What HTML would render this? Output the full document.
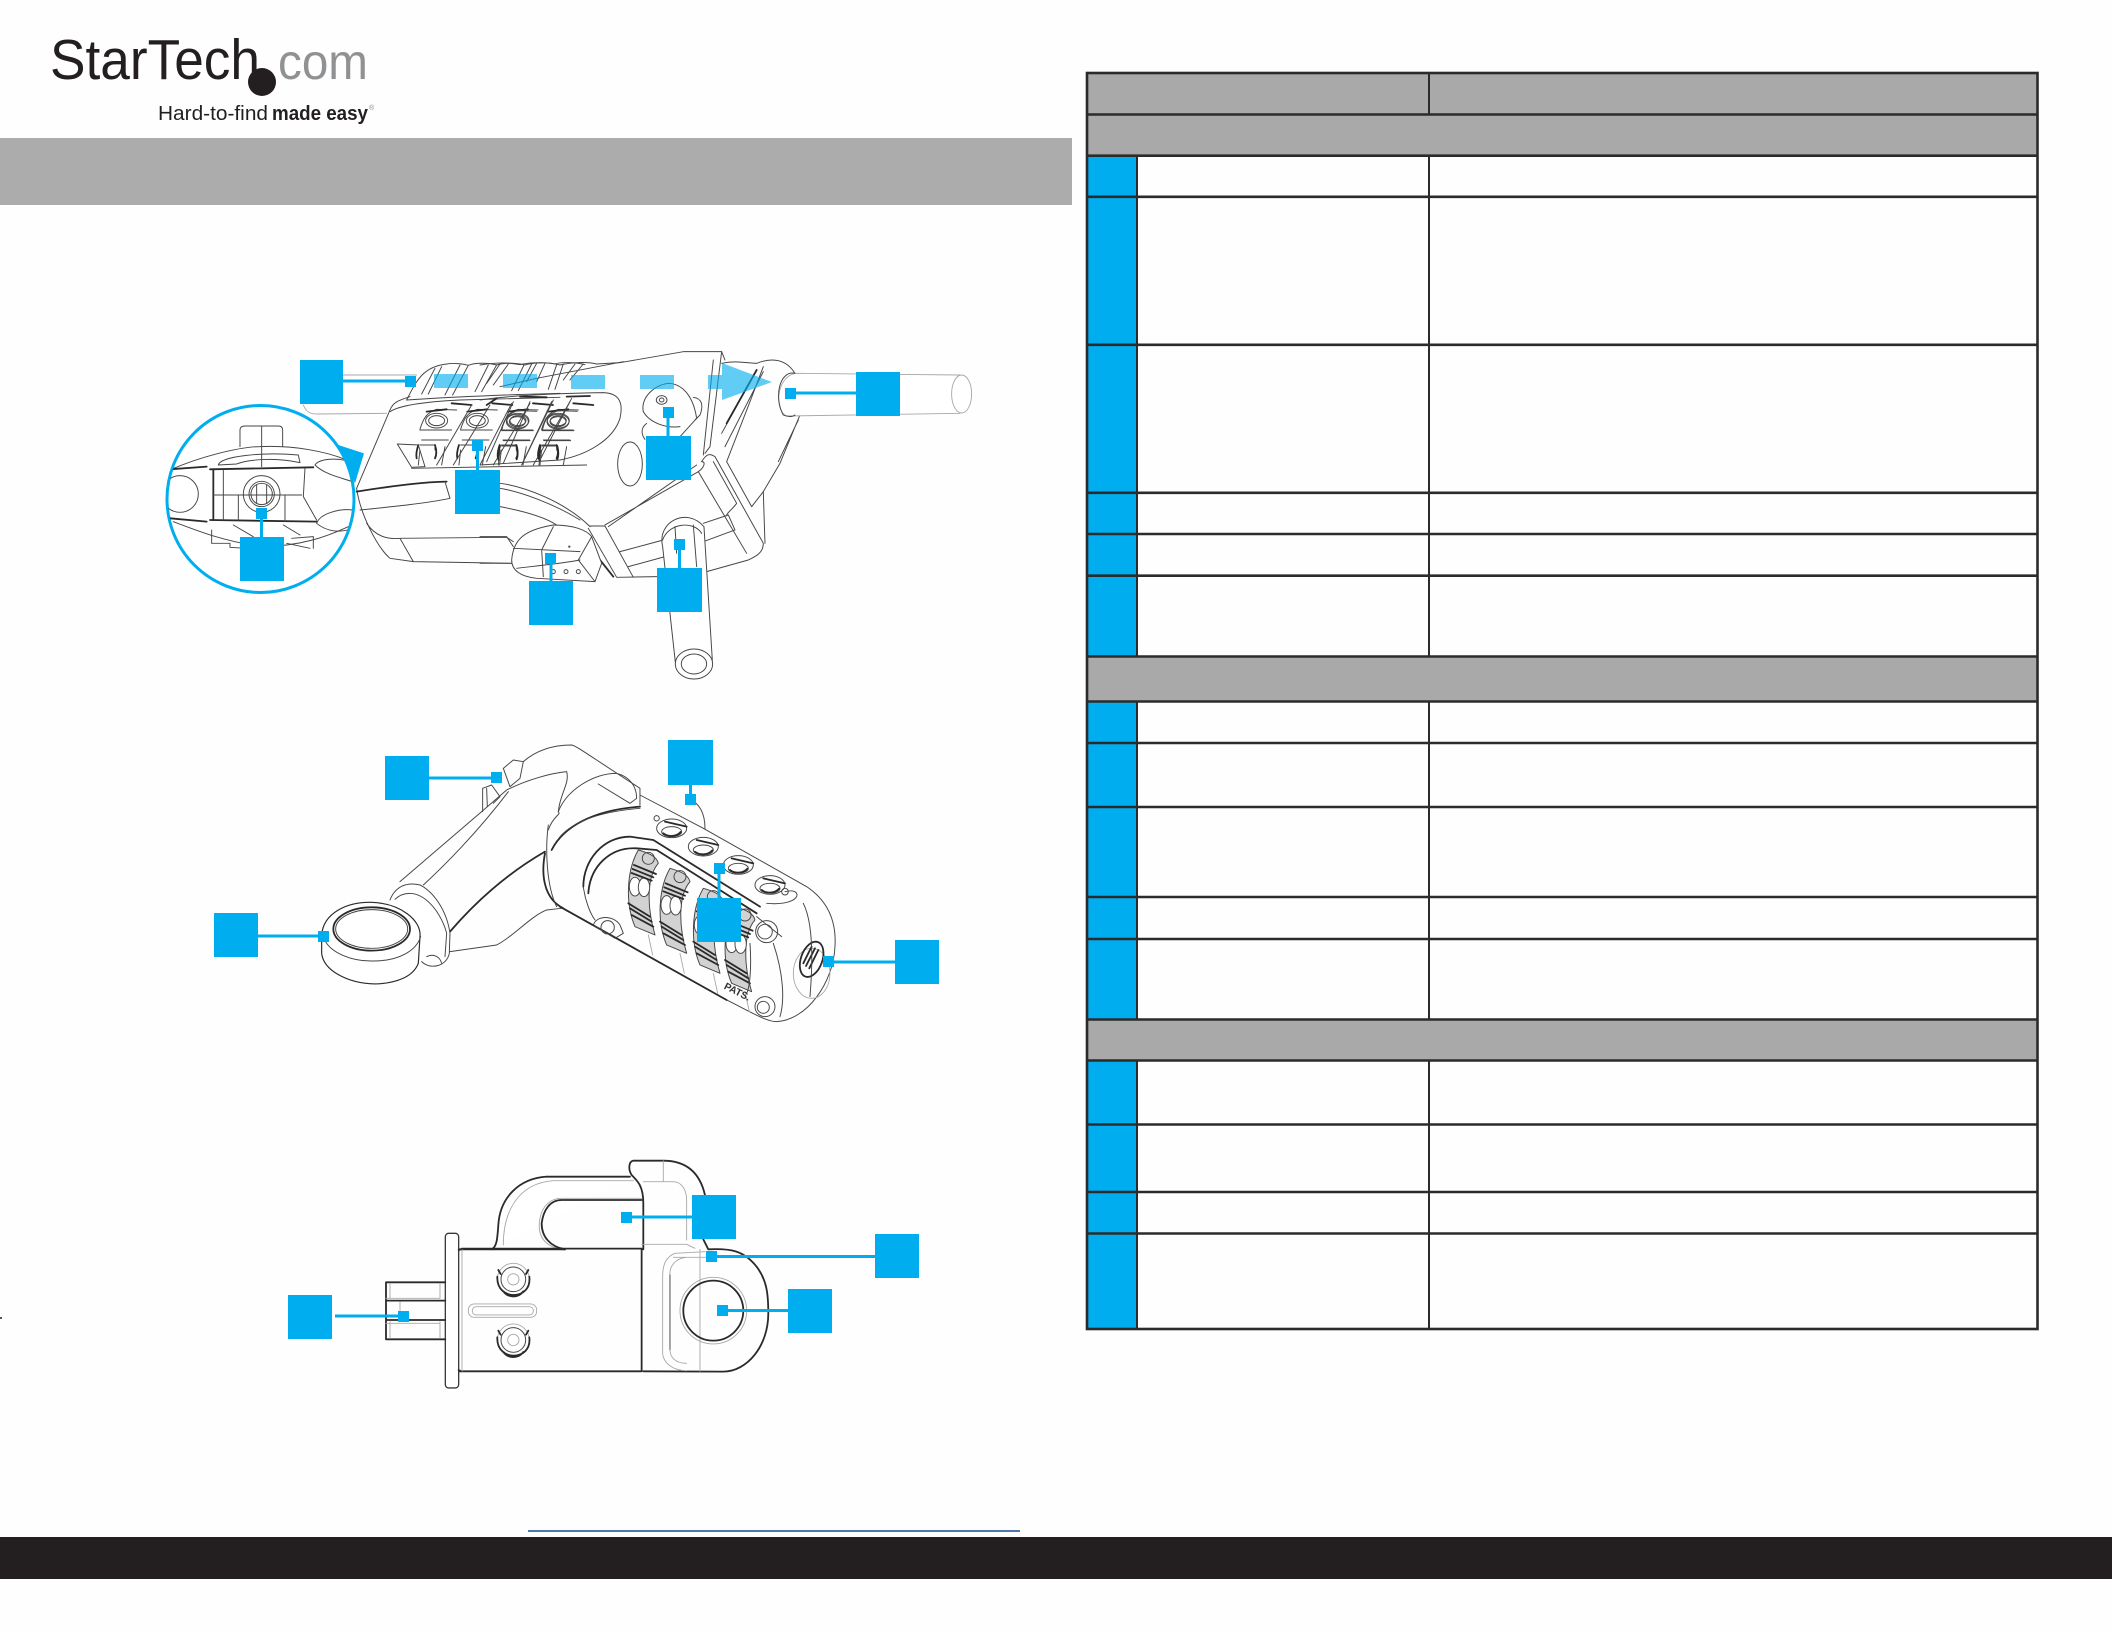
<!DOCTYPE html>
<html><head><meta charset="utf-8"><title>StarTech</title>
<style>
html,body{margin:0;padding:0;background:#fff}
body{width:2112px;height:1632px;overflow:hidden;position:relative}
svg{position:absolute;left:0;top:0}
.l{fill:none;stroke:#454545;stroke-width:2.9;stroke-linejoin:round;stroke-linecap:round}
.h{stroke:#2a2a2a;stroke-width:5.4}
.g{stroke:#a8a8a8;stroke-width:2.7}
.w{fill:#fff}
</style></head><body>
<svg width="2112" height="1632" viewBox="0 0 2112 1632" xmlns="http://www.w3.org/2000/svg">
<defs><clipPath id="cc"><circle cx="301" cy="447" r="277"/></clipPath></defs>
<rect width="2112" height="1632" fill="#fefefe"/>

<!-- logo -->
<text x="50" y="79" font-family="Liberation Sans,sans-serif" font-size="57" fill="#231f20" textLength="210" lengthAdjust="spacingAndGlyphs">StarTech</text>
<text x="278" y="79" font-family="Liberation Sans,sans-serif" font-size="50" fill="#8f9193" textLength="90" lengthAdjust="spacingAndGlyphs">com</text>
<circle cx="262" cy="82" r="14" fill="#231f20"/>
<text x="158" y="120" font-family="Liberation Sans,sans-serif" font-size="20" fill="#231f20" textLength="110" lengthAdjust="spacingAndGlyphs">Hard-to-find</text>
<text x="272" y="120" font-family="Liberation Sans,sans-serif" font-size="20" font-weight="bold" fill="#231f20" textLength="96" lengthAdjust="spacingAndGlyphs">made easy</text>
<text x="369" y="110" font-family="Liberation Sans,sans-serif" font-size="7" fill="#888">®</text>

<!-- bands -->
<rect x="0" y="138" width="1072" height="67" fill="#adacac"/>
<rect x="0" y="1537" width="2112" height="42" fill="#231f20"/>
<rect x="528" y="1530" width="492" height="2" fill="#4c78ad"/>
<rect x="0" y="1317" width="2" height="2" fill="#555"/>

<!-- table -->
<g>
<rect x="1087" y="73" width="950" height="83" fill="#a9a9a9"/>
<rect x="1087" y="657" width="950" height="44" fill="#a9a9a9"/>
<rect x="1087" y="1019" width="950" height="42" fill="#a9a9a9"/>
<rect x="1087" y="156" width="50" height="500" fill="#00aeef"/>
<rect x="1087" y="701" width="50" height="318" fill="#00aeef"/>
<rect x="1087" y="1061" width="50" height="268" fill="#00aeef"/>
<g stroke="#2b2b2b" stroke-width="2.6" fill="none">
<rect x="1087" y="73" width="950.5" height="1256"/>
<path d="M1087 114.500H2037M1087 155.700H2037M1087 196.800H2037M1087 344.800H2037M1087 492.800H2037M1087 534H2037M1087 575.700H2037M1087 656.500H2037M1087 701.500H2037M1087 743H2037M1087 807H2037M1087 897H2037M1087 939H2037M1087 1019.500H2037M1087 1060.500H2037M1087 1124.500H2037M1087 1192H2037M1087 1233.500H2037"/>
<path d="M1429 73V114.500M1429 156V656.500M1429 701.500V1019.500M1429 1060.500V1329" stroke-width="2"/>
<path d="M1137 156V656.500M1137 701.500V1019.500M1137 1060.500V1329" stroke-width="2"/>
</g>
</g>

<!-- illustration 1 left part (origin 160,350, 3x) -->
<g class="l" transform="translate(160 350) scale(.3333)">
<path class="g" d="M550,75 L770,75 M430,165 C440,190 455,192 475,192 L680,190"/>
<polygon points="535,285 612,310 585,400" fill="#00aeef" stroke="none"/>
<!-- ribs -->
<path d="M740,150 C770,90 790,50 860,42 C880,38 910,42 925,46 C945,38 985,38 1010,45 C1030,38 1070,38 1095,45 C1115,38 1160,36 1185,42 C1200,36 1250,36 1275,44"/>
<path d="M785,132 L825,55 M805,132 L845,50 M855,135 L900,45 M878,135 L925,46 M945,125 L985,45 M965,125 L1010,45 M1055,122 L1092,45 M1075,122 L1115,42 M1165,118 L1190,44 M1185,118 L1210,42"/>
<path d="M740,150 C860,142 1000,135 1200,130"/>
<!-- body outline -->
<path d="M690,180 C700,155 720,150 750,140 M690,180 L590,415 C600,490 650,590 690,625 L760,635 L1055,640"/>
<path d="M690,185 C720,165 800,155 900,150 L1200,142"/>
<path class="h" d="M590,425 C680,410 800,395 860,395"/>
<path d="M600,480 C700,470 800,460 870,445 L855,395"/>
<path d="M620,520 C640,550 670,570 720,565 L1040,562 L1060,575 M720,565 L760,635"/>
<!-- dial panel -->
<g id="u1">
<ellipse cx="830" cy="212" rx="33" ry="22"/><ellipse cx="830" cy="212" rx="24" ry="15"/>
<path d="M780,238 C790,205 800,188 830,178 L890,180 M780,240 H875 M785,270 H865 M780,285 H825 V300 M780,300 L775,345 M855,290 L845,345"/>
<path d="M775,285 C770,300 768,315 770,325 M825,285 C830,300 830,315 825,325" class="h"/>
<path class="h" d="M875,160 L935,165 M800,185 L860,178"/>
</g>
<use href="#u1" x="122"/><use href="#u1" x="244"/><use href="#u1" x="365"/>
<path d="M935,165 L830,345 M990,165 L880,345 M1055,160 L960,345 M1110,160 L1000,345 M1175,155 L1085,345 M1230,155 L1120,345"/>
<path d="M712,282 L775,285 L795,350 L755,352Z M755,355 L1280,345"/>
</g>
<!-- nub left, under callouts -->

<!-- illustration 1 right part (origin 480,340, 3x) -->
<g class="l" transform="translate(480 340) scale(.3333)">
<!-- top scallop continues -->
<path d="M0,75 C60,66 90,68 120,74 C150,66 210,66 240,75 C270,68 320,64 350,72 L420,68 L610,35 L725,35 L735,60"/>
<path d="M20,130 L60,72 M40,135 L85,72 M140,125 L170,70 M170,125 L195,70 M250,120 L285,72 M270,120 L310,72 M60,140 L170,115 L430,65"/>
<!-- panel right -->
<path d="M0,180 C100,165 250,160 370,158 C420,160 430,190 420,235 C400,300 320,345 240,360 L0,375"/>
<path d="M50,175 L20,195 M120,170 L200,172 M260,170 L330,168" class="h"/>
<g id="u2"><ellipse cx="112" cy="245" rx="33" ry="22"/><ellipse cx="112" cy="245" rx="24" ry="15"/>
<path d="M65,272 C72,235 85,222 112,212 L170,214 M65,272 H160 M70,302 H150 M65,318 H110 V334 M60,330 L55,375"/><path class="h" d="M60,318 C55,335 53,350 56,360 M110,318 C114,335 114,348 110,358"/></g>
<use href="#u2" x="122"/>
<path d="M100,185 L20,365 M150,185 L70,370 M220,180 L130,365 M275,175 L180,360"/>
<!-- column -->
<path d="M725,35 L690,320 L675,340 M700,60 L670,345"/>
<!-- oval -->
<ellipse cx="450" cy="372" rx="37" ry="66"/>
<!-- knob -->
<path d="M490,215 C480,170 530,130 570,130 C610,135 640,170 650,235 L600,290"/>
<path d="M640,172 C665,175 672,195 660,225 L645,240"/>
<ellipse cx="545" cy="180" rx="16" ry="13"/><ellipse cx="545" cy="180" rx="7" ry="6"/>
<path d="M500,250 C480,265 485,285 495,298 M490,215 C510,250 560,265 600,260"/>
<!-- horn -->
<path d="M725,70 C770,60 800,70 830,70 C880,50 920,60 945,100"/>
<path d="M960,225 L900,370 L850,455 L815,500 L740,365 L810,185 L850,80 M725,280 L830,90 M735,320 L850,95 M955,240 L895,365"/>
<path class="h" d="M740,250 L830,90"/>
<!-- lower right block -->
<path d="M665,365 C680,340 690,340 705,350 L850,610 C850,640 825,650 805,660 L680,695 M850,455 L855,610"/>
<path d="M375,555 L655,395 C670,385 680,365 665,365 M385,560 L650,375"/>
<path d="M330,558 L375,558 L460,712 M325,565 L410,712 L530,710 M420,635 L550,600 M445,680 L555,650 M670,550 L745,525 L765,570 L670,605 M655,395 L800,640 M700,365 L770,490 C760,505 745,515 740,525"/>
<path class="h" d="M360,660 L400,710"/>
<!-- band -->
<path d="M60,430 C140,440 260,490 330,560 M60,445 C120,455 220,490 300,540 M60,500 C140,515 200,535 230,555"/>
<!-- strip / nub -->
<path d="M0,590 L80,590 L100,620 M0,670 L95,670"/>
<path class="w" d="M95,660 C100,600 130,570 220,555 C280,555 320,570 335,590 L365,670 L345,725 L170,715 C120,710 95,690 95,660Z"/>
<path d="M220,560 L185,630 L190,710 M335,590 L295,660 L345,725 M100,625 L300,635 M110,685 C150,680 250,670 300,660"/>
<circle cx="220" cy="695" r="6"/><circle cx="258" cy="695" r="6"/><circle cx="295" cy="695" r="6"/><circle cx="268" cy="620" r="2"/>
<!-- bottom cable -->
<path class="w" d="M548,620 C530,545 620,500 672,560 L697,960 L587,975Z"/>
<path d="M548,600 C565,550 640,540 665,580 M585,560 L590,640 M640,555 L650,680"/>
<ellipse class="w" cx="642" cy="972" rx="56" ry="45"/><ellipse cx="642" cy="972" rx="38" ry="30"/>
<!-- right cable -->
<path class="g w" d="M945,100 L1440,105 L1440,220 L920,228 C885,215 885,115 945,100Z"/>
<ellipse class="w g" cx="1445" cy="162" rx="30" ry="57"/>
<path d="M945,100 C900,90 880,170 910,225 C925,232 940,230 945,225"/>
</g>

<!-- magnifier -->
<circle cx="260.500" cy="499" r="93.500" fill="#fff" stroke="#00aeef" stroke-width="3"/>
<g transform="translate(160 350) scale(.3333)">
<g clip-path="url(#cc)" class="l">
<path d="M240,290 L240,240 Q240,228 255,228 L355,228 Q368,228 368,240 L368,290 M305,228 L305,350"/>
<path d="M30,360 C120,320 240,290 300,290 C400,285 500,305 560,330"/>
<path d="M175,345 C180,320 300,305 415,315 L420,338 C340,320 260,330 230,342Z"/>
<path class="h" d="M30,358 L140,350 M150,358 L460,352 M30,505 L140,515 M150,510 L470,515"/>
<path class="h" d="M160,358 L160,510"/>
<circle cx="305" cy="432" r="55"/><circle cx="305" cy="432" r="38"/><circle cx="305" cy="432" r="32"/><path d="M290,405 V460 M320,405 V460 M160,435 L425,435"/>
<circle cx="60" cy="432" r="55"/>
<path d="M190,360 V510 M235,435 V510 M375,435 V515 M435,355 L430,440 L470,510"/>
<path d="M465,345 C480,320 560,325 578,340 M465,345 C490,370 530,380 578,395 M470,520 C480,490 540,475 578,480 M470,520 C500,545 540,550 578,535"/>
<path d="M40,515 C120,545 180,570 300,590 C420,590 500,560 565,530"/>
<path d="M155,540 L155,580 L210,580 L210,592 L290,597 M380,580 L450,595 M395,565 L460,560 L460,595 M220,525 L280,560 M370,525 L420,555"/>
</g>
</g>

<!-- illustration 2 left (origin 300,740) -->
<g class="l" transform="translate(300 740) scale(.3333)">
<path d="M548,215 L548,145 L575,135 L600,170 L580,190 M560,145 L562,200"/>
<path d="M610,85 L640,60 L670,65 L660,115 L630,140Z"/>
<!-- elbow -->
<path d="M670,65 C710,30 760,15 815,15 C830,18 850,35 1020,145 L1020,195"/>
<!-- arm -->
<path d="M300,425 L545,215 L620,150 C680,120 750,100 800,95 C810,130 780,160 775,215"/>
<path d="M370,435 C430,380 530,280 625,155"/>
<path class="h" d="M450,575 C540,470 640,390 735,335"/>
<path d="M450,635 L590,615 C640,590 690,530 740,510 L785,505"/>
<!-- second collar -->
<path d="M775,215 C800,150 880,100 950,100 C990,110 1010,140 1010,175 L990,190 L895,132"/>
<path class="h" d="M755,330 C790,260 880,210 1020,200"/>
<path d="M780,290 C820,245 900,215 1020,205 M745,270 C760,225 785,225 775,215"/>
<path class="h" d="M735,340 C720,420 740,480 790,505"/>
<path d="M745,255 C735,330 740,440 770,500"/>
<!-- collar -->
<path class="w" d="M270,480 C285,440 320,425 360,435 C400,455 440,510 450,580 L448,640 C440,680 390,690 365,665"/>
<path d="M285,478 C310,455 350,450 390,490 C420,520 435,560 440,580 L435,650 M380,650 C400,640 420,650 425,670"/>
<!-- ring -->
<path class="w h" d="M65,585 C70,520 140,485 215,487 C300,490 365,540 360,590 L355,670 C340,710 290,730 225,732 C140,730 70,690 65,640Z" style="stroke-width:3.5"/>
<path d="M70,590 C85,640 160,665 220,663 C300,663 350,630 362,590"/>
<ellipse class="h" cx="215" cy="567" rx="115" ry="65"/>
<ellipse cx="215" cy="567" rx="108" ry="58"/>
</g>

<!-- illustration 2 right (origin 540,800) -->
<g class="l" transform="translate(540 800) scale(.3333)">
<path d="M440,-10 C480,10 495,40 495,85"/>
<path d="M300,-15 L490,85 L800,260 C860,300 890,360 885,440 C880,550 800,660 710,665 C680,665 640,640 560,600"/>
<path class="h" d="M60,320 L560,600"/>
<!-- buttons -->
<g id="bt"><ellipse cx="395" cy="85" rx="45" ry="28"/><ellipse cx="395" cy="95" rx="30" ry="15"/><path class="h" d="M370,100 C385,112 410,110 422,96 M375,65 L440,80"/></g>
<use href="#bt" x="95" y="55"/><use href="#bt" x="200" y="110"/><use href="#bt" x="295" y="170"/>
<circle cx="350" cy="55" r="8"/><circle cx="735" cy="275" r="10"/>
<path d="M735,275 C790,260 790,320 680,310"/>
<!-- window -->
<path class="h" d="M130,260 C130,180 190,110 270,110 L340,120 L660,320 M145,280 C150,200 210,140 290,145 L350,150 L650,340"/>
<path d="M130,260 C135,300 150,340 165,360"/>
<!-- dials -->
<g id="dd">
<path d="M295,150 C330,160 350,170 355,190 C320,230 320,320 345,405 L285,380 C255,310 260,210 295,150Z" fill="#8b8b8b" fill-opacity=".38"/>
<circle cx="325" cy="175" r="18"/><ellipse cx="285" cy="260" rx="17" ry="28" class="w"/><ellipse cx="312" cy="262" rx="17" ry="28" class="w"/>
<path class="h" d="M282,195 L348,222 M278,207 L340,232 M275,219 L335,242 M265,310 L330,350 M270,325 L335,365 M275,345 L340,380"/>
<path class="g" d="M325,405 L338,465"/>
</g>
<use href="#dd" x="95" y="55"/><use href="#dd" x="195" y="115"/><use href="#dd" x="290" y="170"/>
<!-- screws -->
<path d="M160,375 C170,345 220,345 240,375 L250,400 L225,415Z"/><circle cx="203" cy="382" r="20"/>
<circle cx="680" cy="395" r="33"/><circle cx="675" cy="395" r="22"/><path d="M650,350 L725,410"/>
<circle cx="675" cy="620" r="30"/><circle cx="670" cy="622" r="18"/>
<!-- end -->
<ellipse class="g" cx="815" cy="520" rx="55" ry="75"/>
<ellipse class="h" cx="815" cy="478" rx="32" ry="55" transform="rotate(20 815 478)"/>
<path class="h" d="M790,490 L815,440 M798,498 L825,445 M808,505 L835,450"/>
<path d="M700,430 C730,520 735,600 720,650 M630,430 C635,500 630,560 620,580 M790,310 C825,380 815,530 810,590"/>
<text transform="translate(550 565) rotate(27) scale(3)" font-family="Liberation Sans,sans-serif" font-size="10" font-weight="bold" fill="#333" stroke="none">PATS.</text>
</g>

<!-- illustration 3 (origin 380,1150) -->
<g class="l" transform="translate(380 1150) scale(.3333)">
<path class="h w" d="M335,298 C350,290 352,270 355,225 C360,140 420,85 500,80 L750,80"/>
<path class="g" d="M370,285 C370,190 410,100 520,92 L760,92"/>
<path class="h" d="M555,298 C510,290 485,260 485,220 C490,180 510,150 545,150 L785,150"/>
<path class="g" d="M550,300 C495,290 475,260 478,220 C482,170 510,145 545,145 L785,145"/>
<path class="h" d="M760,32 C745,35 745,60 755,75 C775,95 790,110 790,160 L790,298 M760,32 L850,32 C920,32 960,70 975,135"/>
<path class="g" d="M850,32 V95 M790,95 L880,95 C905,95 920,120 920,150 V270"/>
<path class="g" d="M785,283 L920,283 L945,295"/>
<!-- body -->
<path class="h" d="M236,298 L335,298 H555 M245,296 H785 V664 H236"/>
<path class="g" d="M246,298 V664"/>
<rect class="h w" x="196" y="250" width="40" height="464" rx="10" style="stroke:#3a3a3a;stroke-width:4"/>
<path class="h" d="M236,300 L243,298 M236,660 L243,664"/>
<!-- prongs -->
<path class="h" d="M196,397 H18 V568 H196 M18,452 H196 M18,510 H196"/>
<path class="g" d="M30,400 V445 M180,400 V445 M30,515 V565 M180,515 V565 M18,445 H180 M18,520 H180 M60,455 V510"/>
<!-- right -->
<path class="h" d="M970,268 L985,298 C1050,295 1090,300 1130,350 C1160,390 1165,430 1165,490 C1165,590 1100,665 1030,665 L790,664"/>
<path class="g" d="M975,305 L885,310 C860,320 848,340 848,380 L848,610 C850,640 880,662 920,662 M880,322 H990 M960,298 V664 M870,375 C868,350 885,325 920,322"/>
<path d="M870,375 V600"/>
<path class="g" d="M870,600 C870,620 885,640 920,640"/>
<circle class="g" cx="1000" cy="482" r="100"/>
<circle class="h" cx="1000" cy="482" r="90"/>
<!-- screws -->
<g id="sc"><circle cx="400" cy="388" r="48" class="g"/><circle cx="400" cy="388" r="37"/><circle class="g" cx="400" cy="388" r="17"/>
<path class="h" d="M352,380 C350,420 380,435 400,435 C430,435 452,415 448,380 M355,360 L362,372 M445,360 L438,372 M370,424 A37,37 0 0 0 430,424"/></g>
<use href="#sc" y="182"/>
<rect class="g" x="265" y="462" width="205" height="40" rx="18"/>
<rect class="g" x="277" y="470" width="183" height="25" rx="12"/>
</g>

<!-- callouts -->
<g fill="#00aeef">
<rect x="300" y="360" width="43" height="44"/><rect x="343" y="379.500" width="65" height="3"/><rect x="405" y="376" width="11" height="11"/>
<rect x="856" y="372" width="44" height="44"/><rect x="790" y="391.500" width="66" height="3"/><rect x="785" y="388" width="11" height="11"/>
<rect x="646" y="436" width="45" height="44"/><rect x="666.500" y="415" width="3" height="21"/><rect x="663" y="407" width="11" height="11"/>
<rect x="455" y="470" width="45" height="44"/><rect x="476" y="448" width="3" height="22"/><rect x="472" y="440" width="11" height="11"/>
<rect x="240" y="537" width="44" height="44"/><rect x="260" y="517" width="3" height="20"/><rect x="256" y="508" width="11" height="11"/>
<rect x="529" y="581" width="44" height="44"/><rect x="549.500" y="561" width="3" height="20"/><rect x="545" y="553" width="11" height="11"/>
<rect x="657" y="568" width="45" height="44"/><rect x="678" y="547" width="3" height="21"/><rect x="674" y="539" width="11" height="11"/>
<rect x="385" y="756" width="44" height="44"/><rect x="429" y="776.500" width="64" height="3"/><rect x="491" y="772" width="11" height="11"/>
<rect x="668" y="740" width="45" height="45"/><rect x="689" y="785" width="3" height="10"/><rect x="685" y="794" width="11" height="11"/>
<rect x="214" y="913" width="44" height="44"/><rect x="258" y="934.500" width="62" height="3"/><rect x="318" y="931" width="11" height="11"/>
<rect x="697" y="898" width="44" height="44"/><rect x="717.500" y="872" width="3" height="26"/><rect x="714" y="863" width="11" height="11"/>
<rect x="895" y="940" width="44" height="44"/><rect x="831" y="960.500" width="64" height="3"/><rect x="823" y="956" width="11" height="11"/>
<rect x="692" y="1195" width="44" height="44"/><rect x="630" y="1215.500" width="62" height="3"/><rect x="621" y="1212" width="11" height="11"/>
<rect x="875" y="1234" width="44" height="44"/><rect x="715" y="1255" width="160" height="3"/><rect x="706" y="1251" width="11" height="11"/>
<rect x="788" y="1289" width="44" height="44"/><rect x="726" y="1309" width="62" height="3"/><rect x="717" y="1305" width="11" height="11"/>
<rect x="288" y="1295" width="44" height="44"/><rect x="335" y="1314.500" width="65" height="3"/><rect x="398" y="1311" width="11" height="11"/>
</g>
<!-- translucent arrow -->
<g fill="#00aeef" fill-opacity=".62">
<rect x="434" y="374" width="34" height="14"/><rect x="503" y="374" width="34" height="14"/><rect x="571" y="375" width="34" height="14"/><rect x="640" y="375" width="34" height="14"/><rect x="708" y="375" width="14" height="14"/>
<polygon points="722,363 772,382 722,400"/>
</g>
</svg>
</body></html>
